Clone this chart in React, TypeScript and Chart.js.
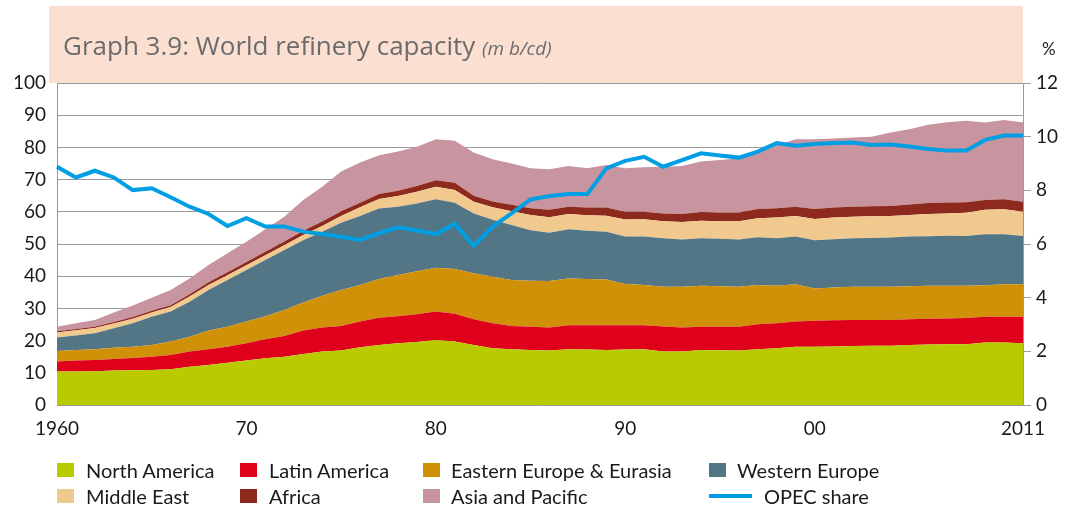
import React, { useEffect, useRef } from 'react';
import { Chart, registerables } from 'chart.js';

Chart.register(...registerables);

const years = [
  '1960','1961','1962','1963','1964','1965','1966','1967','1968','1969',
  '1970','1971','1972','1973','1974','1975','1976','1977','1978','1979',
  '1980','1981','1982','1983','1984','1985','1986','1987','1988','1989',
  '1990','1991','1992','1993','1994','1995','1996','1997','1998','1999',
  '2000','2001','2002','2003','2004','2005','2006','2007','2008','2009',
  '2010','2011',
];

const northAmerica = [
  10.4,10.4,10.5,10.7,10.8,10.9,11.1,11.9,12.4,13.1,
  13.8,14.5,15.0,15.8,16.6,16.9,17.9,18.6,19.2,19.6,
  20.2,19.7,18.6,17.6,17.3,17.1,16.9,17.3,17.2,17.1,
  17.2,17.3,16.6,16.6,17.1,17.0,16.9,17.3,17.6,18.1,
  18.1,18.2,18.3,18.4,18.4,18.6,18.8,18.9,18.9,19.4,
  19.4,19.2,
];
const latinAmerica = [
  3.1,3.4,3.5,3.6,3.8,4.1,4.4,4.7,4.9,5.0,
  5.4,5.9,6.4,7.3,7.5,7.6,8.0,8.5,8.4,8.6,
  8.8,8.6,8.0,7.8,7.2,7.2,7.2,7.5,7.6,7.7,
  7.6,7.5,7.8,7.5,7.2,7.3,7.4,7.8,7.8,7.8,
  8.1,8.1,8.1,8.0,8.0,8.0,8.0,8.0,8.1,8.0,
  8.0,8.2,
];
const easternEurope = [
  3.3,3.3,3.3,3.5,3.5,3.6,4.2,4.6,5.8,6.2,
  6.7,7.2,8.1,8.7,9.8,11.2,11.4,12.0,12.8,13.3,
  13.6,13.9,14.3,14.4,14.3,14.3,14.4,14.5,14.3,14.2,
  12.8,12.5,12.3,12.6,12.7,12.6,12.4,12.2,11.6,11.6,
  10.0,10.2,10.3,10.3,10.3,10.3,10.2,10.1,10.0,9.8,
  10.1,10.1,
];
const westernEurope = [
  4.2,4.5,5.0,6.0,7.3,8.8,9.3,10.9,12.6,14.5,
  16.0,17.4,18.6,19.4,19.9,20.9,21.4,21.9,21.2,21.1,
  21.3,20.6,18.6,17.7,17.1,15.7,15.0,15.3,15.0,14.8,
  14.7,15.0,15.1,14.7,14.8,14.7,14.7,14.8,14.8,14.8,
  15.0,15.0,15.1,15.2,15.3,15.4,15.4,15.6,15.5,15.8,
  15.5,15.0,
];
const middleEast = [
  1.5,1.6,1.6,1.5,1.4,1.3,1.4,1.6,1.6,1.5,
  1.5,1.5,1.5,1.6,1.8,2.1,2.7,3.0,3.3,3.6,
  3.9,4.0,3.6,3.9,4.3,4.7,4.8,4.7,4.8,5.0,
  5.3,5.4,5.3,5.4,5.4,5.5,5.7,5.9,6.4,6.4,
  6.6,6.7,6.7,6.7,6.7,6.7,6.9,6.9,7.2,7.6,
  7.8,7.5,
];
const africa = [
  0.4,0.4,0.4,0.5,0.5,0.6,0.6,0.7,0.8,0.9,
  1.0,1.1,1.2,1.3,1.4,1.5,1.4,1.5,1.6,1.8,
  2.0,2.2,1.9,1.8,2.0,2.1,2.3,2.3,2.4,2.5,
  2.4,2.3,2.4,2.5,2.7,2.7,2.7,2.9,2.9,2.9,
  3.1,3.1,3.1,3.1,3.1,3.3,3.4,3.4,3.3,3.1,
  3.1,3.1,
];
const asiaPacific = [
  1.4,1.8,2.1,2.9,3.6,4.0,4.7,4.9,5.4,5.9,
  6.3,7.0,7.7,9.6,10.8,12.3,12.5,12.1,12.2,12.2,
  12.7,13.1,13.4,13.1,12.8,12.4,12.6,12.6,12.2,13.2,
  13.5,13.8,14.5,14.9,15.7,16.3,16.8,17.3,19.6,20.9,
  21.6,21.5,21.5,21.6,22.8,23.3,24.3,24.9,25.3,24.0,
  24.6,24.6,
];
const opecShare = [
  8.88,8.48,8.73,8.48,8.01,8.08,7.74,7.39,7.12,6.67,
  6.96,6.65,6.65,6.46,6.37,6.27,6.15,6.40,6.62,6.50,
  6.37,6.75,5.93,6.65,7.14,7.66,7.79,7.86,7.86,8.82,
  9.10,9.25,8.88,9.13,9.38,9.30,9.22,9.44,9.76,9.66,
  9.73,9.76,9.78,9.69,9.71,9.63,9.54,9.48,9.48,9.88,
  10.04,10.04,
];

const xTickYears = ['1960', '1970', '1980', '1990', '2000', '2011'];
const xTickLabels = ['1960', '70', '80', '90', '00', '2011'];

const seriesNames = [
  'North America', 'Latin America', 'Eastern Europe & Eurasia', 'Western Europe',
  'Middle East', 'Africa', 'Asia and Pacific',
];
const seriesColors = ['#BACA00', '#DF001C', '#D09108', '#537686', '#F1C98F', '#8E2A1D', '#C8949F'];
const opecName = 'OPEC share';
const opecColor = '#009FE3';

const TICK_FONT = { family: 'Lato', size: 19 };
const GRID = '#9a9a9a';

const titleBoxPlugin = {
  id: 'titleBox',
  beforeDraw(chart: any) {
    const { ctx, chartArea } = chart;
    ctx.save();
    ctx.fillStyle = '#FBE0D2';
    ctx.fillRect(49, 6, chartArea.right - 49, chartArea.top - 6);
    ctx.restore();
  },
};

export default function App() {
  const ref = useRef<HTMLCanvasElement | null>(null);

  useEffect(() => {
    if (!ref.current) return;
    const series = [northAmerica, latinAmerica, easternEurope, westernEurope, middleEast, africa, asiaPacific];
    const areaSets = series.map((data, i) => ({
      label: seriesNames[i],
      data,
      yAxisID: 'y',
      backgroundColor: seriesColors[i],
      borderColor: seriesColors[i],
      borderWidth: 0,
      pointRadius: 0,
      tension: 0,
      fill: i === 0 ? 'origin' : '-1',
    }));
    const chart = new Chart(ref.current, {
      type: 'line',
      data: {
        labels: years,
        datasets: [
          ...areaSets,
          {
            label: opecName,
            data: opecShare,
            yAxisID: 'y1',
            borderColor: opecColor,
            backgroundColor: opecColor,
            borderWidth: 4,
            pointRadius: 0,
            tension: 0,
            fill: false,
            order: -1,
          },
        ],
      } as any,
      options: {
        responsive: false,
        animation: false,
        layout: { padding: { top: 83, left: 0, right: 0, bottom: 0 } },
        plugins: { legend: { display: false }, tooltip: { enabled: false }, title: { display: false } },
        scales: {
          x: {
            type: 'category',
            offset: false,
            grid: { display: false, drawTicks: false },
            border: { display: false },
            ticks: {
              autoSkip: false,
              maxRotation: 0,
              padding: 12,
              color: '#1a1a1a',
              font: TICK_FONT,
              callback: (_v: any, idx: number) => {
                const k = xTickYears.indexOf(years[idx]);
                return k >= 0 ? xTickLabels[k] : '';
              },
            },
            afterFit: (s: any) => { s.height = 104; },
          },
          y: {
            position: 'left',
            stacked: true,
            min: 0,
            max: 100,
            grid: { color: GRID, drawTicks: false, lineWidth: 1 },
            border: { display: true, color: GRID },
            ticks: { stepSize: 10, padding: 11, color: '#1a1a1a', font: TICK_FONT },
            afterFit: (s: any) => { s.width = 57; },
          },
          y1: {
            position: 'right',
            stacked: false,
            min: 0,
            max: 12,
            grid: { drawOnChartArea: false, color: GRID, tickLength: 8 },
            border: { display: true, color: GRID },
            ticks: { stepSize: 2, padding: 5, color: '#1a1a1a', font: TICK_FONT },
            afterFit: (s: any) => { s.width = 55; },
          },
        },
      } as any,
      plugins: [titleBoxPlugin],
    });
    return () => chart.destroy();
  }, []);

  const legendRows = [
    [0, 1, 2, 3],
    [4, 5, 6, -1],
  ];
  const markerX = [57, 240, 423, 709];
  const textX = [86, 269, 451, 737];
  const rowY = [463, 489];

  return (
    <div style={{ position: 'absolute', left: 0, top: 0, width: 1078, height: 509, background: '#fff' }}>
      <canvas ref={ref} width={1078} height={509} style={{ position: 'absolute', left: 0, top: 0, display: 'block' }} />
      <div
        style={{
          position: 'absolute', left: 63, top: 30, fontFamily: 'Open Sans', fontSize: 26,
          lineHeight: '30px', color: '#6b6b6b', whiteSpace: 'nowrap',
        }}
      >
        Graph 3.9: World refinery capacity{' '}
        <span style={{ fontStyle: 'italic', fontSize: 19 }}>(m b/cd)</span>
      </div>
      <div style={{ position: 'absolute', left: 1042, top: 38, fontFamily: 'Lato', fontSize: 17, color: '#1a1a1a' }}>%</div>
      {legendRows.map((row, r) =>
        row.map((si, c) => {
          const isOpec = si === -1;
          return (
            <React.Fragment key={`${r}-${c}`}>
              {isOpec ? (
                <div style={{ position: 'absolute', left: markerX[c], top: rowY[r] + 5, width: 43, height: 4, background: opecColor }} />
              ) : (
                <div style={{ position: 'absolute', left: markerX[c], top: rowY[r], width: 17, height: 14, background: seriesColors[si] }} />
              )}
              <div
                style={{
                  position: 'absolute', left: isOpec ? 764 : textX[c], top: rowY[r] - 5, fontFamily: 'Lato',
                  fontSize: 20, lineHeight: '24px', color: '#1a1a1a', whiteSpace: 'nowrap',
                }}
              >
                {isOpec ? opecName : seriesNames[si]}
              </div>
            </React.Fragment>
          );
        })
      )}
    </div>
  );
}
